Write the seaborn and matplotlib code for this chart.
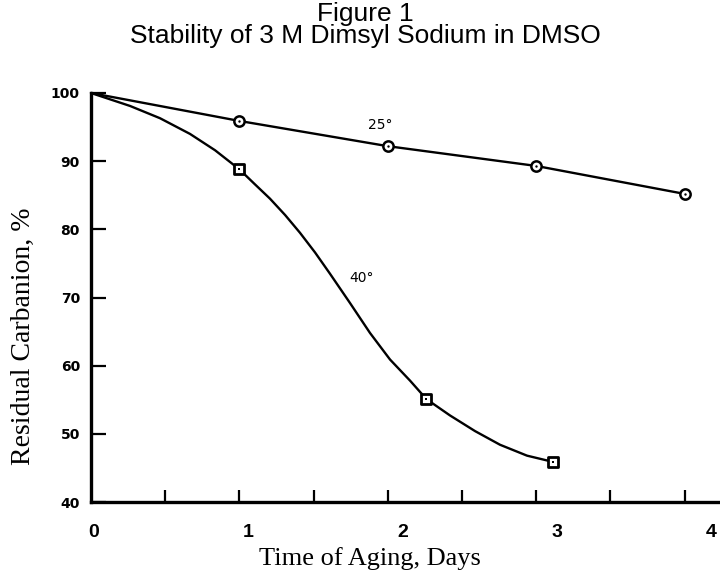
import matplotlib
matplotlib.use("Agg")
import matplotlib.pyplot as plt
import seaborn as sns
import pandas as pd

# ---- data ----
days_25 = [0, 1, 2, 3, 4]
resid_25 = [100, 95.9, 92.2, 89.3, 85.2]

days_40_pts = [1.0, 2.26, 3.11]
resid_40_pts = [88.8, 55.1, 45.9]

# hand-drawn 40° curve
days_40_curve = [0, 0.263, 0.465, 0.667, 0.836, 1.0, 1.1, 1.206, 1.308, 1.408, 1.51, 1.61, 1.745,
                 1.88, 2.015, 2.15, 2.26, 2.419, 2.588, 2.756, 2.938, 3.11]
resid_40_curve = [100, 98.1, 96.3, 94.0, 91.6, 88.8, 86.7, 84.5, 82.1, 79.5, 76.6, 73.5, 69.2,
                  64.8, 60.9, 57.8, 55.1, 52.7, 50.4, 48.4, 46.8, 45.9]

y_ticks = [40, 50, 60, 70, 80, 90, 100]
y_ticklabels = ["40", "50", "60", "70", "80", "90", "100"]
x_minor_ticks = [0.5, 1, 1.5, 2, 2.5, 3, 3.5, 4]
x_labels = ["0", "1", "2", "3", "4"]

title_lines = ["Figure 1", "Stability of 3 M Dimsyl Sodium in DMSO"]
xlabel = "Time of Aging, Days"
ylabel = "Residual Carbanion, %"

sns.set_theme(style="white")
plt.rcParams["font.family"] = ["DejaVu Sans"]
for k in ["text.color", "axes.labelcolor", "xtick.color", "ytick.color", "axes.edgecolor"]:
    plt.rcParams[k] = "black"

W, H = 720, 573
fig = plt.figure(figsize=(7.2, 5.73), dpi=100)
x0, y0 = 91, 502      # axes origin in pixels
ytop = 93
ax = fig.add_axes([x0 / W, (H - y0) / H, (W - x0) / W, (y0 - ytop) / H])
px_per_day = 148.4
ax.set_xlim(0, (W - x0) / px_per_day)
ax.set_ylim(40, 100)

df25 = pd.DataFrame({"d": days_25, "r": resid_25})
df40c = pd.DataFrame({"d": days_40_curve, "r": resid_40_curve})
df40p = pd.DataFrame({"d": days_40_pts, "r": resid_40_pts})

lw = 1.7
sns.lineplot(data=df25, x="d", y="r", ax=ax, color="black", lw=lw, sort=False,
             clip_on=False, solid_joinstyle="round")
sns.lineplot(data=df40c, x="d", y="r", ax=ax, color="black", lw=lw, sort=False,
             clip_on=False, solid_joinstyle="round")

# markers (circle with centre dot / square with centre dot)
sns.scatterplot(data=df25.iloc[1:], x="d", y="r", ax=ax, marker="o", s=55,
                facecolor="white", edgecolor="black", linewidth=1.8, zorder=5, clip_on=False)
sns.scatterplot(data=df25.iloc[1:], x="d", y="r", ax=ax, marker="o", s=3,
                color="black", linewidth=0, zorder=6, clip_on=False)
sns.scatterplot(data=df40p, x="d", y="r", ax=ax, marker="s", s=50,
                facecolor="white", edgecolor="black", linewidth=2.0, zorder=5, clip_on=False)
sns.scatterplot(data=df40p, x="d", y="r", ax=ax, marker="s", s=3,
                color="black", linewidth=0, zorder=6, clip_on=False)

# curve labels
ax.text(1.95, 95.3, "25°", fontsize=10, ha="center", va="center")
ax.text(1.82, 72.8, "40°", fontsize=10, ha="center", va="center")

# spines / ticks
for s in ["top", "right"]:
    ax.spines[s].set_visible(False)
for s in ["left", "bottom"]:
    ax.spines[s].set_linewidth(2.4)
    ax.spines[s].set_color("black")

ax.set_yticks(y_ticks)
ax.set_yticklabels(y_ticklabels, fontsize=10, fontweight="bold")
ax.tick_params(axis="y", direction="in", length=11, width=1.6, pad=8, left=True)
ax.set_xticks(x_minor_ticks)
ax.set_xticklabels([])
ax.tick_params(axis="x", direction="in", length=9, width=1.6, bottom=True)
ax.set_xlabel("")
ax.set_ylabel("")

# day labels: printed slightly stretched relative to the tick marks in the reference
lab0, lab_step = 94, 154.25
def to_lab(d):
    return (x0 + px_per_day * d - lab0) / lab_step
def from_lab(v):
    return (lab0 + lab_step * v - x0) / px_per_day
sec = ax.secondary_xaxis("bottom", functions=(to_lab, from_lab))
sec.set_xticks(range(len(x_labels)))
sec.set_xticklabels(x_labels, fontsize=14, fontweight="bold", family="Liberation Sans")
sec.tick_params(length=0, pad=16)
sec.spines["bottom"].set_visible(False)

fig.text(370 / W, 1 - 559 / H, xlabel, ha="center", va="center",
         fontsize=19, family="Liberation Serif")
fig.text(23 / W, 1 - 336 / H, ylabel, ha="center", va="center", rotation=90,
         fontsize=20, family="Liberation Serif")
fig.text(365 / W, 1 - 14 / H, title_lines[0], ha="center", va="center",
         fontsize=19, family="Liberation Sans")
fig.text(365 / W, 1 - 36 / H, title_lines[1], ha="center", va="center",
         fontsize=19, family="Liberation Sans")

fig.savefig("out.png", dpi=100)
